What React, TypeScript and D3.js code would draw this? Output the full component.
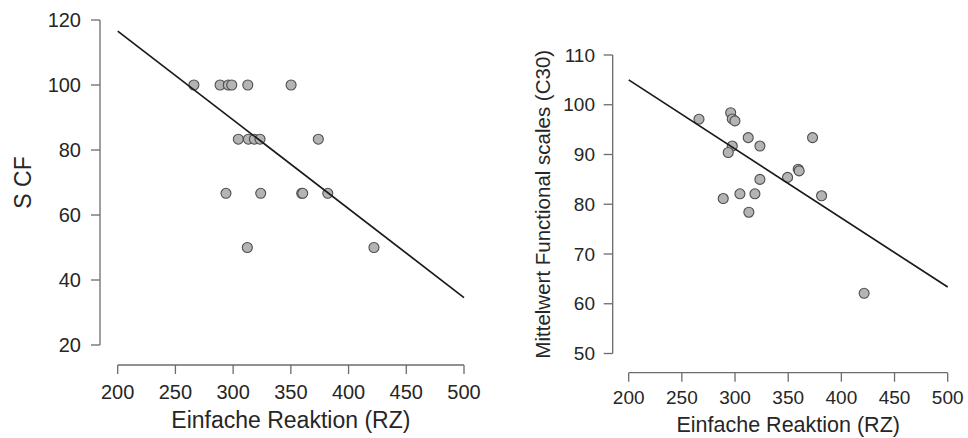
import * as d3 from "d3";

// Shared x ticks (Einfache Reaktion, RZ)
const xTicks = [200, 250, 300, 350, 400, 450, 500];

// Left panel: S CF vs RZ
const scfTicks = [20, 40, 60, 80, 100, 120];
const rzLeft = [
  266, 288.7, 295.8, 298.8, 312.7, 350.2,
  304.5, 313.2, 318.4, 323.3, 373.8,
  293.8, 323.9, 359.4, 360.3, 382,
  312.3, 422,
];
const scf = [
  100, 100, 100, 100, 100, 100,
  83.33, 83.33, 83.33, 83.33, 83.33,
  66.67, 66.67, 66.67, 66.67, 66.67,
  50, 50,
];
const scfFit = [116.6, 34.6];

// Right panel: Mittelwert Functional scales (C30) vs RZ
const c30Ticks = [50, 60, 70, 80, 90, 100, 110];
const rzRight = [
  266.1, 295.9, 297.4, 299.9, 312.4, 372.9, 297.4, 323.4, 293.6, 349.4,
  359.4, 360.3, 323.4, 304.6, 318.7, 288.9, 381.4, 313, 421.4,
];
const c30 = [
  97.1, 98.4, 97.15, 96.75, 93.4, 93.4, 91.7, 91.7, 90.4, 85.4,
  87.05, 86.7, 85.0, 82.1, 82.1, 81.15, 81.7, 78.4, 62.1,
];
const c30Fit = [105.0, 63.35];
const fitX = [200, 500];

const FONT = "'Liberation Sans', Arial, Helvetica, sans-serif";
const TEXT = "#262626";
const AXIS = "#6b6b6b";

type PanelProps = {
  xs: number[];
  ys: number[];
  fitY: number[];
  yTicks: number[];
  xRange: [number, number];
  yRange: [number, number];
  yAxisX: number;
  xAxisY: number;
  tickSize: number;
  titleSize: number;
  yTitleSize: number;
  yLabelX: number;
  xLabelY: number;
  xTitleY: number;
  yTitle: string;
  yTitleX: number;
};

const Panel = (p: PanelProps) => {
  const x = d3.scaleLinear().domain([200, 500]).range(p.xRange);
  const y = d3
    .scaleLinear()
    .domain(d3.extent(p.yTicks) as [number, number])
    .range(p.yRange);
  const line = d3
    .line<number>()
    .x((_, i) => x(fitX[i]))
    .y((d) => y(d));
  const tickLen = 9;
  const yMid = (p.yRange[0] + p.yRange[1]) / 2;

  return (
    <g fontFamily={FONT} fill={TEXT}>
      {/* y axis */}
      <line x1={p.yAxisX} x2={p.yAxisX} y1={y(p.yTicks[0])} y2={y(p.yTicks[p.yTicks.length - 1])} stroke={AXIS} strokeWidth={1.3} />
      {p.yTicks.map((t) => (
        <g key={t}>
          <line x1={p.yAxisX - tickLen} x2={p.yAxisX} y1={y(t)} y2={y(t)} stroke={AXIS} strokeWidth={1.3} />
          <text x={p.yLabelX} y={y(t)} dy="0.35em" textAnchor="end" fontSize={p.tickSize}>
            {t}
          </text>
        </g>
      ))}
      {/* x axis */}
      <line x1={x(200)} x2={x(500)} y1={p.xAxisY} y2={p.xAxisY} stroke={AXIS} strokeWidth={1.3} />
      {xTicks.map((t) => (
        <g key={t}>
          <line x1={x(t)} x2={x(t)} y1={p.xAxisY} y2={p.xAxisY + tickLen} stroke={AXIS} strokeWidth={1.3} />
          <text x={x(t)} y={p.xLabelY} textAnchor="middle" fontSize={p.tickSize}>
            {t}
          </text>
        </g>
      ))}
      <text x={(x(200) + x(500)) / 2} y={p.xTitleY} textAnchor="middle" fontSize={p.titleSize}>
        Einfache Reaktion (RZ)
      </text>
      <text
        transform={`translate(${p.yTitleX},${yMid}) rotate(-90)`}
        textAnchor="middle"
        fontSize={p.yTitleSize}
      >
        {p.yTitle}
      </text>
      {/* points */}
      {p.xs.map((d, i) => (
        <circle key={i} cx={x(d)} cy={y(p.ys[i])} r={5} fill="#b4b4b4" stroke="#4d4d4d" strokeWidth={1.1} />
      ))}
      {/* regression line */}
      <path d={line(p.fitY) ?? ""} fill="none" stroke="#1a1a1a" strokeWidth={1.7} />
    </g>
  );
};

export default function App() {
  return (
    <svg width={968} height={438} style={{ position: "absolute", left: 0, top: 0, background: "#fff" }}>
      <Panel
        xs={rzLeft}
        ys={scf}
        fitY={scfFit}
        yTicks={scfTicks}
        xRange={[117.7, 464]}
        yRange={[345, 20]}
        yAxisX={100}
        xAxisY={365}
        tickSize={20}
        titleSize={23}
        yTitleSize={23}
        yLabelX={81}
        xLabelY={399}
        xTitleY={428}
        yTitle="S CF"
        yTitleX={31}
      />
      <Panel
        xs={rzRight}
        ys={c30}
        fitY={c30Fit}
        yTicks={c30Ticks}
        xRange={[628.7, 947.7]}
        yRange={[353.5, 55]}
        yAxisX={612.7}
        xAxisY={372.7}
        tickSize={19}
        titleSize={21.5}
        yTitleSize={20.5}
        yLabelX={595}
        xLabelY={403.5}
        xTitleY={432}
        yTitle="Mittelwert Functional scales (C30)"
        yTitleX={550}
      />
    </svg>
  );
}
